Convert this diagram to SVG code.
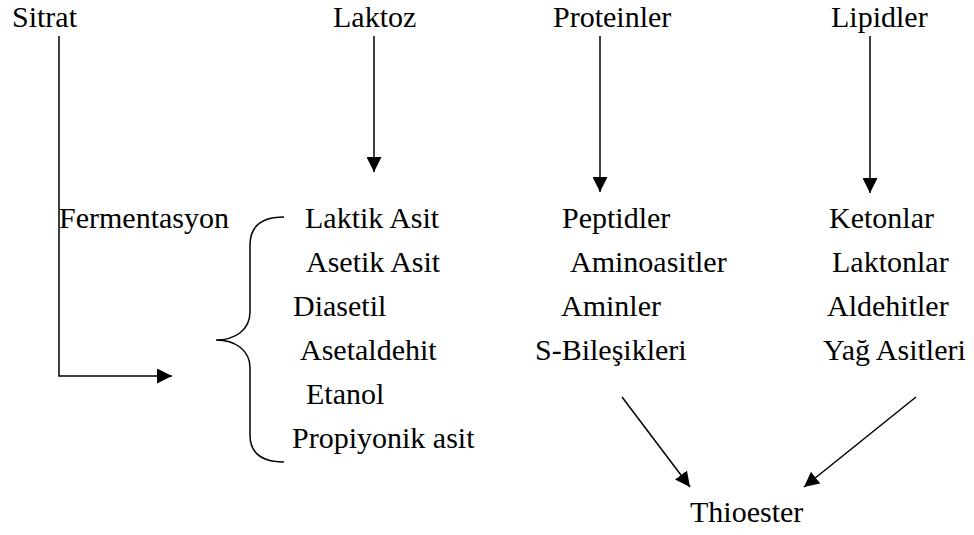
<svg xmlns="http://www.w3.org/2000/svg" width="974" height="535" viewBox="0 0 974 535">
<style>
text{font-family:"Liberation Serif","Times New Roman","DejaVu Serif",serif;font-size:30px;fill:#000}
.c{fill:none;stroke:#000;stroke-width:1.5}
</style>
<defs>
<marker id="ah" markerUnits="userSpaceOnUse" markerWidth="15" markerHeight="15" viewBox="0 0 15 15" refX="15" refY="7.5" orient="auto">
<path d="M0,0 L15,7.5 L0,15 Z" fill="#000"/>
</marker>
</defs>
<rect width="974" height="535" fill="#fff"/>
<g id="connectors">
<polyline class="c" points="59,36 59,376 172,376" marker-end="url(#ah)"/>
<line class="c" x1="374" y1="36" x2="374" y2="172" marker-end="url(#ah)"/>
<line class="c" x1="600" y1="36" x2="600" y2="192" marker-end="url(#ah)"/>
<line class="c" x1="870" y1="36" x2="870" y2="193" marker-end="url(#ah)"/>
<line class="c" x1="622" y1="397" x2="690" y2="487" marker-end="url(#ah)"/>
<line class="c" x1="916" y1="397" x2="804" y2="487" marker-end="url(#ah)"/>
<path id="brace" class="c" d="M284,217 C260,217 250,228 250,245 L250,312 C250,330 235,340 216,340 C235,340 250,350 250,368 L250,435 C250,452 260,462 284,462"/>
</g>
<g id="sitrat"><text x="12" y="27">Sitrat</text></g>
<g id="laktoz"><text x="333" y="27">Laktoz</text></g>
<g id="proteinler"><text x="553" y="27">Proteinler</text></g>
<g id="lipidler"><text x="831" y="27">Lipidler</text></g>
<g id="fermentasyon"><text x="59" y="228">Fermentasyon</text></g>
<g id="laktoz-urunleri">
<text x="305" y="228">Laktik Asit</text>
<text x="306" y="272">Asetik Asit</text>
<text x="293" y="316">Diasetil</text>
<text x="300" y="360">Asetaldehit</text>
<text x="306" y="404">Etanol</text>
<text x="292" y="448">Propiyonik asit</text>
</g>
<g id="protein-urunleri">
<text x="562" y="228">Peptidler</text>
<text x="570" y="272">Aminoasitler</text>
<text x="561" y="316">Aminler</text>
<text x="535" y="360">S-Bileşikleri</text>
</g>
<g id="lipid-urunleri">
<text x="829" y="228">Ketonlar</text>
<text x="832" y="272">Laktonlar</text>
<text x="827" y="316">Aldehitler</text>
<text x="823" y="360">Yağ Asitleri</text>
</g>
<g id="thioester"><text x="690" y="522">Thioester</text></g>
</svg>
